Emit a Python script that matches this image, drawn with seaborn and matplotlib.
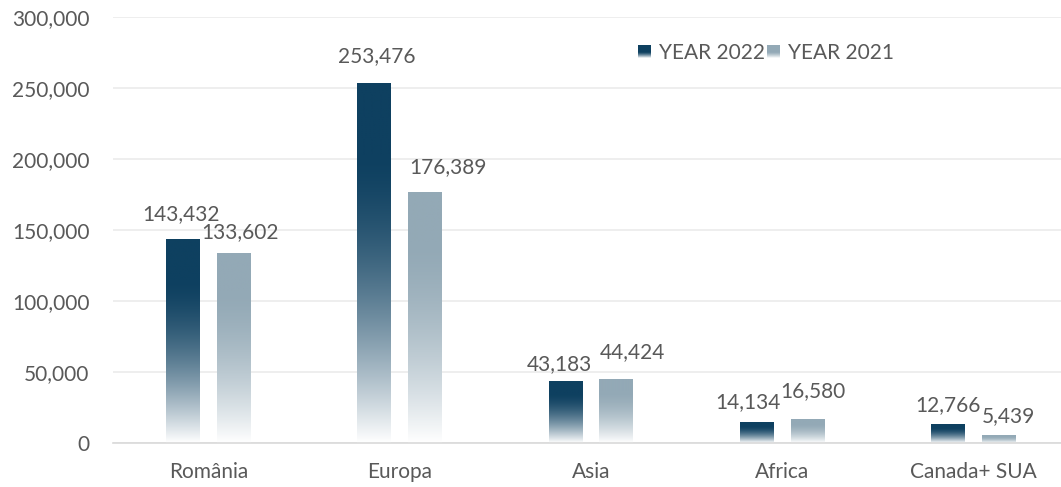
import numpy as np
import pandas as pd
import matplotlib
matplotlib.use('Agg')
import matplotlib.pyplot as plt
import seaborn as sns
from matplotlib.colors import to_rgb
from matplotlib.patches import Patch, Rectangle
from matplotlib.legend_handler import HandlerBase

# datos
regiones = ['România', 'Europa', 'Asia', 'Africa', 'Canada+ SUA']
valores_2022 = [143432, 253476, 43183, 14134, 12766]
valores_2021 = [133602, 176389, 44424, 16580, 5439]
series = ['YEAR 2022', 'YEAR 2021']
colores = {'YEAR 2022': '#0e4060', 'YEAR 2021': '#93a9b6'}

# desplazamiento de las etiquetas (px): como las coloca Excel
dx_etiquetas = [-2, 2, -6, -9, 0, 6, 23, 16, 5, 10]
dy_etiquetas = [19, 21, 12, 15, 14, 15, 19, 22, 22, 13]

df = pd.DataFrame({
    'Region': regiones * 2,
    'Serie': [series[0]] * 5 + [series[1]] * 5,
    'Valor': valores_2022 + valores_2021,
})

sns.set_theme(style='white')
plt.rcParams['font.family'] = ['Lato', 'DejaVu Sans']
gris = '#595959'

fig = plt.figure(figsize=(10.61, 4.87), dpi=100)
ax = fig.add_axes([113 / 1061, 44 / 487, 956 / 1061, 426 / 487])

sns.barplot(data=df, x='Region', y='Valor', hue='Serie', order=regiones,
            hue_order=series, palette=colores, width=0.533, gap=0.333,
            ax=ax, legend=False)

ax.set_yticks(range(0, 300001, 50000))
ax.yaxis.set_major_formatter(matplotlib.ticker.FuncFormatter(lambda v, p: f'{int(v):,}'))
ax.grid(axis='y', color='#ebebeb', linewidth=1.2)
ax.set_axisbelow(True)
for s in ['left', 'right', 'top']:
    ax.spines[s].set_visible(False)
ax.spines['bottom'].set_color('#d9d9d9')
ax.spines['bottom'].set_linewidth(1.2)
ax.tick_params(axis='both', length=0, labelsize=15, colors=gris)
ax.tick_params(axis='x', pad=14)
ax.tick_params(axis='y', pad=17)
ax.set_xlabel('')
ax.set_ylabel('')


# degradado: color arriba, blanco abajo
def degradado(color, n=256):
    c = np.array(to_rgb(color))
    t = np.linspace(0, 1, n)
    m = np.clip((t - 0.2) / 0.8, 0, 1) ** 1.6
    rgb = c[None, :] * (1 - m[:, None]) + np.ones(3)[None, :] * m[:, None]
    return rgb[:, None, :]


for i, bar in enumerate(ax.patches):
    serie = series[i // 5]
    x0, w, h = bar.get_x(), bar.get_width(), bar.get_height()
    bar.set_facecolor('none')
    bar.set_edgecolor('none')
    ax.imshow(degradado(colores[serie]), extent=[x0, x0 + w, 0, h],
              aspect='auto', origin='upper', zorder=2, interpolation='bilinear')
    ax.annotate(f'{int(h):,}', (x0 + w / 2, h), xytext=(dx_etiquetas[i], dy_etiquetas[i]),
                textcoords='offset pixels', ha='center', va='baseline',
                fontsize=15, color=gris)

ax.set_xlim(-0.5, 4.5)
ax.set_ylim(0, 300000)


class HandlerDegradado(HandlerBase):
    def create_artists(self, legend, orig_handle, xdescent, ydescent, width, height, fontsize, trans):
        c = np.array(to_rgb(orig_handle.get_facecolor()))
        n = 12
        artists = []
        for k in range(n):
            t = (k + 0.5) / n
            m = np.clip((t - 0.5) / 0.5, 0, 1) ** 1.3
            col = c * (1 - m) + m
            artists.append(Rectangle((-xdescent, -ydescent + height * (1 - (k + 1) / n)),
                                     width, height / n + 0.01, facecolor=col,
                                     edgecolor='none', transform=trans))
        return artists


handles = [Patch(facecolor=colores[s], label=s) for s in series]
ax.legend(handles=handles, loc='center', bbox_to_anchor=((766 - 113) / 956, (443 - 53) / 426),
          ncol=2, frameon=False, fontsize=15, labelcolor=gris, handlelength=0.6,
          handleheight=0.6, handletextpad=0.4, columnspacing=0.1,
          handler_map={Patch: HandlerDegradado()})

fig.savefig('out.png', dpi=100)
